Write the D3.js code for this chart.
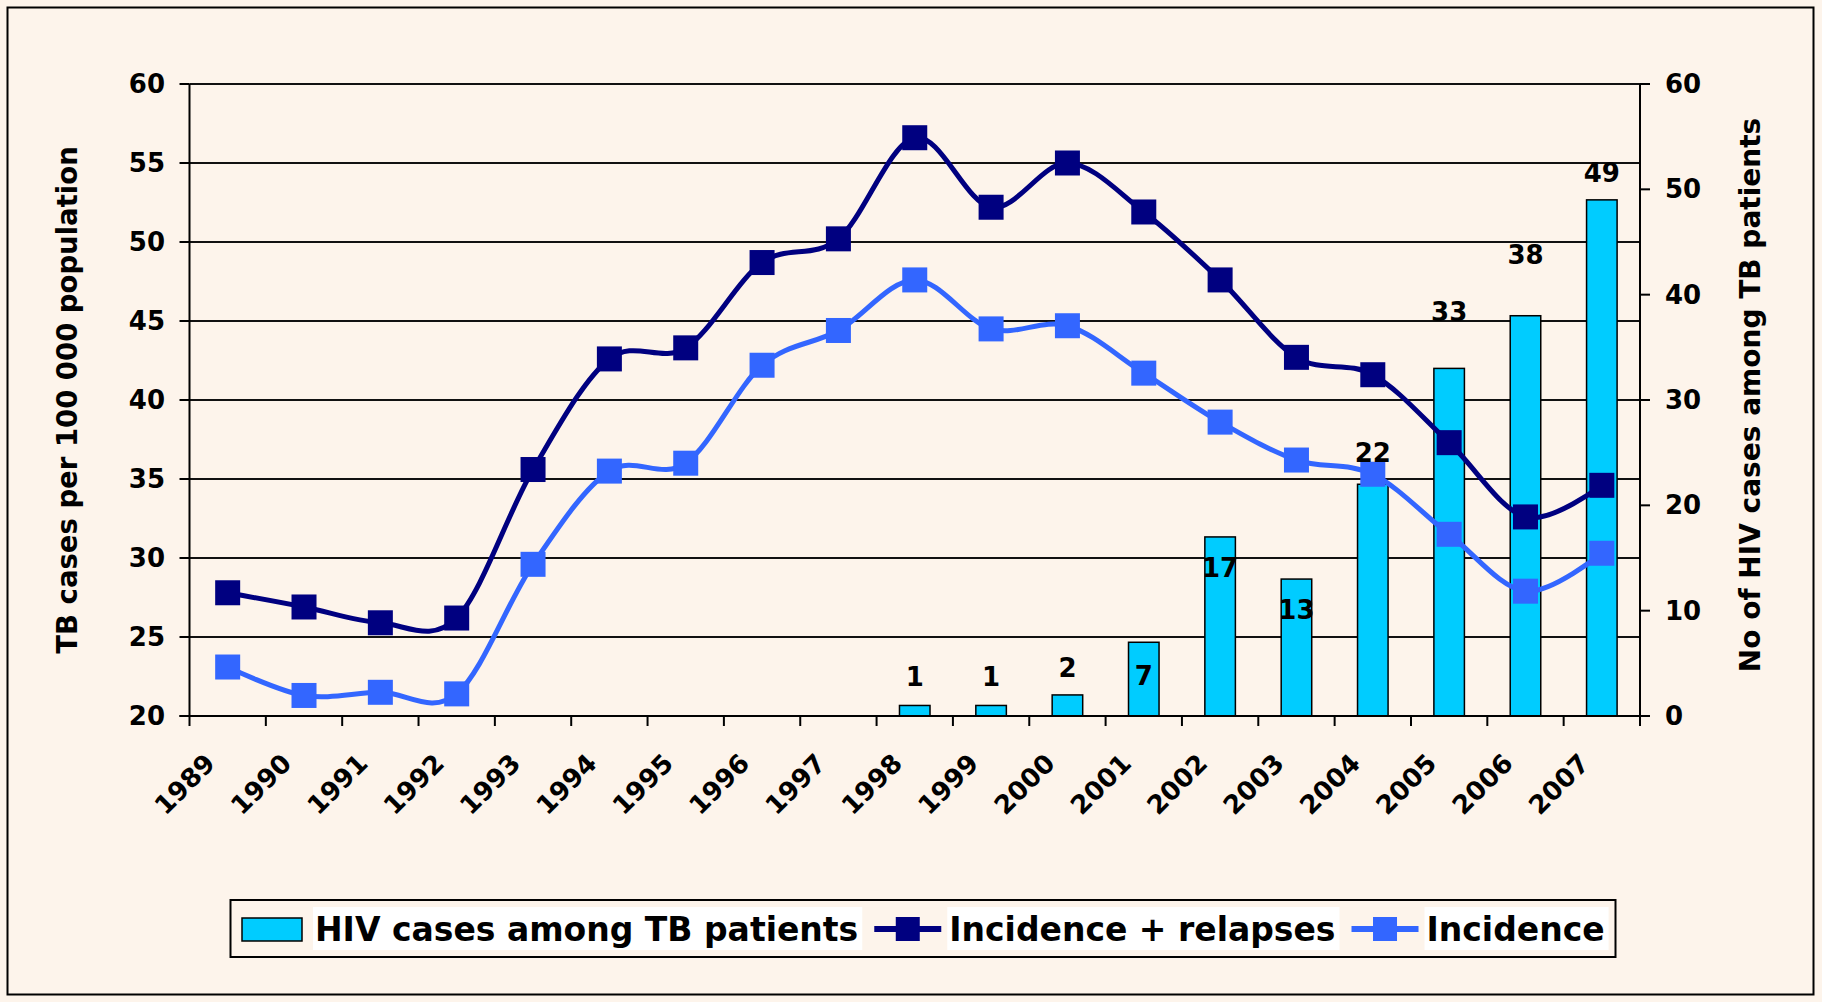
<!DOCTYPE html>
<html>
<head>
<meta charset="utf-8">
<script src="https://cdn.jsdelivr.net/npm/d3@7"></script>
<style>
  html, body { margin: 0; padding: 0; background: #FDF4EB; }
  svg { display: block; }
  text { font-family: "DejaVu Sans", Verdana, sans-serif; font-weight: bold; fill: #000; }
</style>
</head>
<body>
<svg id="chart" width="1822" height="1002"></svg>
<script>
// ---- data ----
const years = ["1989","1990","1991","1992","1993","1994","1995","1996","1997","1998",
               "1999","2000","2001","2002","2003","2004","2005","2006","2007"];
const incidenceRelapses = [27.8, 26.9, 25.9, 26.2, 35.6, 42.6, 43.3, 48.7, 50.2, 56.6,
                           52.2, 55.0, 51.9, 47.6, 42.7, 41.6, 37.3, 32.6, 34.6];
const incidence = [23.1, 21.3, 21.5, 21.4, 29.6, 35.5, 36.0, 42.2, 44.4, 47.6,
                   44.5, 44.7, 41.7, 38.6, 36.2, 35.3, 31.5, 27.9, 30.3];
const hivCases = [null, null, null, null, null, null, null, null, null, 1,
                  1, 2, 7, 17, 13, 22, 33, 38, 49];
const leftTicks = [20, 25, 30, 35, 40, 45, 50, 55, 60];
const rightTicks = [0, 10, 20, 30, 40, 50, 60];
const seriesNames = ["HIV cases among TB patients", "Incidence + relapses", "Incidence"];
const leftTitle = "TB cases per 100 000 population";
const rightTitle = "No of HIV cases among TB patients";
// label vertical offsets (px) from bar top, as placed in the original chart
const labelDy = [0,0,0,0,0,0,0,0,0,-28,-28,-27,34,31,31,-31,-56,-61,-27];

// ---- layout ----
const bg = "#FDF4EB";
const colBar = "#00CCFF", colDark = "#000080", colLight = "#3366FF";
const plot = { left: 189.5, right: 1640, top: 84, bottom: 716 };

const svg = d3.select("#chart");
svg.append("rect").attr("x", 0).attr("y", 0).attr("width", 1822).attr("height", 1002).attr("fill", bg);
svg.append("rect").attr("x", 7.5).attr("y", 7.5).attr("width", 1806).attr("height", 987)
   .attr("fill", bg).attr("stroke", "#000").attr("stroke-width", 2);

const x = d3.scaleBand().domain(years).range([plot.left, plot.right]).paddingInner(0).paddingOuter(0);
const yL = d3.scaleLinear().domain([20, 60]).range([plot.bottom, plot.top]);
const yR = d3.scaleLinear().domain([0, 60]).range([plot.bottom, plot.top]);
const cx = d => x(d) + x.bandwidth() / 2;

// gridlines
svg.append("g").selectAll("line").data(leftTicks.filter(t => t > 20)).join("line")
  .attr("x1", plot.left).attr("x2", plot.right)
  .attr("y1", d => yL(d)).attr("y2", d => yL(d))
  .attr("stroke", "#111").attr("stroke-width", 2);

// bars
const barW = x.bandwidth() / 2.5;
const barData = years.map((y, i) => ({ year: y, v: hivCases[i], dy: labelDy[i] })).filter(d => d.v != null);
svg.append("g").selectAll("rect").data(barData).join("rect")
  .attr("x", d => cx(d.year) - barW / 2)
  .attr("y", d => yR(d.v))
  .attr("width", barW)
  .attr("height", d => yR(0) - yR(d.v))
  .attr("fill", colBar).attr("stroke", "#000").attr("stroke-width", 1.5);

// lines
const line = (arr, scale) => d3.line()
  .x((d, i) => cx(years[i]))
  .y(d => scale(d))
  .curve(d3.curveCatmullRom.alpha(0))(arr);

function drawSeries(arr, color) {
  svg.append("path").attr("d", line(arr, yL)).attr("fill", "none")
    .attr("stroke", color).attr("stroke-width", 5).attr("stroke-linejoin", "round");
  const ms = 25;
  svg.append("g").selectAll("rect").data(arr).join("rect")
    .attr("x", (d, i) => cx(years[i]) - ms / 2)
    .attr("y", d => yL(d) - ms / 2)
    .attr("width", ms).attr("height", ms).attr("fill", color);
}
drawSeries(incidenceRelapses, colDark);
drawSeries(incidence, colLight);

// data labels
svg.append("g").selectAll("text").data(barData).join("text")
  .attr("x", d => cx(d.year))
  .attr("y", d => yR(d.v) + d.dy)
  .attr("text-anchor", "middle").attr("dominant-baseline", "central")
  .style("font-size", "26px")
  .text(d => d.v);

// axes
const axG = svg.append("g").attr("stroke", "#000").attr("stroke-width", 2);
axG.append("line").attr("x1", plot.left).attr("x2", plot.left).attr("y1", plot.top).attr("y2", plot.bottom + 10);
axG.append("line").attr("x1", plot.right).attr("x2", plot.right).attr("y1", plot.top).attr("y2", plot.bottom + 10);
axG.append("line").attr("x1", plot.left - 10).attr("x2", plot.right + 10).attr("y1", plot.bottom).attr("y2", plot.bottom);
axG.selectAll(".lt").data(leftTicks).join("line").attr("class", "lt")
  .attr("x1", plot.left - 10).attr("x2", plot.left).attr("y1", d => yL(d)).attr("y2", d => yL(d));
axG.selectAll(".rt").data(rightTicks).join("line").attr("class", "rt")
  .attr("x1", plot.right).attr("x2", plot.right + 10).attr("y1", d => yR(d)).attr("y2", d => yR(d));
axG.selectAll(".xt").data(years.slice(1)).join("line").attr("class", "xt")
  .attr("x1", d => x(d)).attr("x2", d => x(d)).attr("y1", plot.bottom).attr("y2", plot.bottom + 10);

svg.append("g").selectAll("text").data(leftTicks).join("text")
  .attr("x", 165).attr("y", d => yL(d)).attr("text-anchor", "end").attr("dominant-baseline", "central")
  .style("font-size", "26px").text(d => d);
svg.append("g").selectAll("text").data(rightTicks).join("text")
  .attr("x", 1665).attr("y", d => yR(d)).attr("text-anchor", "start").attr("dominant-baseline", "central")
  .style("font-size", "26px").text(d => d);

// x labels rotated
svg.append("g").selectAll("text").data(years).join("text")
  .attr("transform", d => `translate(${cx(d) - 11},${plot.bottom + 49}) rotate(-45)`)
  .attr("text-anchor", "end")
  .style("font-size", "26px").text(d => d);

// axis titles
svg.append("text").attr("transform", `translate(67,400) rotate(-90)`)
  .attr("text-anchor", "middle").attr("dominant-baseline", "central")
  .style("font-size", "27.5px").text(leftTitle);
svg.append("text").attr("transform", `translate(1750,395) rotate(-90)`)
  .attr("text-anchor", "middle").attr("dominant-baseline", "central")
  .style("font-size", "28px").text(rightTitle);

// legend
const lg = svg.append("g");
lg.append("rect").attr("x", 230.5).attr("y", 900).attr("width", 1385).attr("height", 57)
  .attr("fill", bg).attr("stroke", "#000").attr("stroke-width", 2);
const legY = 929;
let cur = 242;
function legendText(str) {
  const t = lg.append("text").attr("x", cur).attr("y", legY).attr("dominant-baseline", "central")
    .style("font-size", "33px").text(str);
  const w = t.node().getComputedTextLength();
  lg.insert("rect", "text").attr("x", cur - 2).attr("y", 907).attr("width", w + 6).attr("height", 43).attr("fill", "#fff");
  cur += w + 4;
}
lg.append("rect").attr("x", cur).attr("y", 918).attr("width", 60).attr("height", 23)
  .attr("fill", colBar).attr("stroke", "#000").attr("stroke-width", 1.5);
cur += 73;
legendText(seriesNames[0]);
function legendLine(color) {
  cur += 12;
  lg.append("line").attr("x1", cur).attr("x2", cur + 67).attr("y1", legY).attr("y2", legY)
    .attr("stroke", color).attr("stroke-width", 6);
  lg.append("rect").attr("x", cur + 33.5 - 12).attr("y", legY - 12).attr("width", 24).attr("height", 24).attr("fill", color);
  cur += 75;
}
legendLine(colDark);
legendText(seriesNames[1]);
legendLine(colLight);
legendText(seriesNames[2]);
</script>
</body>
</html>
